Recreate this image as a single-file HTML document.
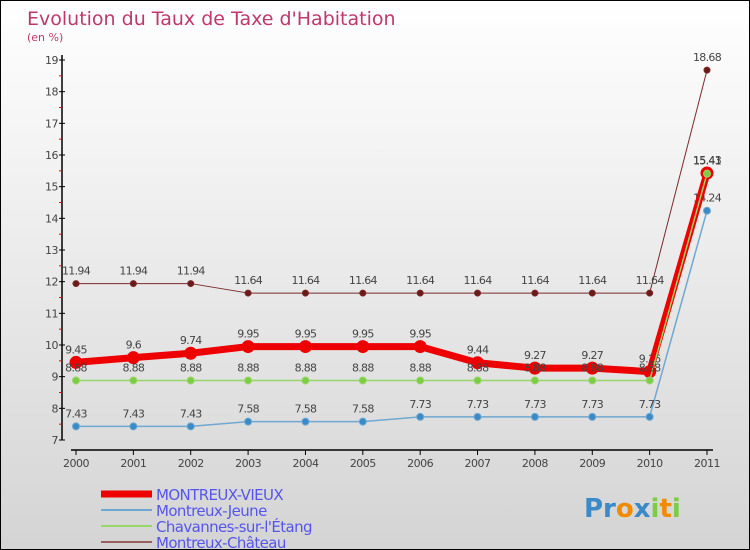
<!DOCTYPE html>
<html><head><meta charset="utf-8"><style>
body{margin:0}
#c{width:748px;height:548px;border:1px solid #000;background:linear-gradient(#fff,#d4d4d4);position:relative;font-family:"DejaVu Sans","Liberation Sans",sans-serif;overflow:hidden}
svg{position:absolute;left:0;top:0}
</style></head><body>
<div id="c">
<svg id="s" width="748" height="548">
<text x="26" y="24" font-size="19" fill="#c0386a">Evolution du Taux de Taxe d'Habitation</text>
<text x="26" y="40" font-size="11" fill="#c0386a">(en %)</text>
</svg>
</div>
<script>
const years=["2000","2001","2002","2003","2004","2005","2006","2007","2008","2009","2010","2011"];
const vieux=[9.45,9.6,9.74,9.95,9.95,9.95,9.95,9.44,9.27,9.27,9.16,15.43];
const jeune=[7.43,7.43,7.43,7.58,7.58,7.58,7.73,7.73,7.73,7.73,7.73,14.24];
const chavannes=[8.88,8.88,8.88,8.88,8.88,8.88,8.88,8.88,8.88,8.88,8.88,15.41];
const chateau=[11.94,11.94,11.94,11.64,11.64,11.64,11.64,11.64,11.64,11.64,11.64,18.68];
const yTicks=[7,8,9,10,11,12,13,14,15,16,17,18,19];
const NS="http://www.w3.org/2000/svg",s=document.getElementById('s');
const X=i=>75+i*(706-75)/11, Y=v=>439-(v-7)*(439-59)/12;
function mk(t,a,p){const e=document.createElementNS(NS,t);for(const k in a)e.setAttribute(k,a[k]);(p||s).appendChild(e);return e;}
let ax=mk('line',{x1:61,y1:54,x2:61,y2:439,stroke:'#000','stroke-width':1.5});


let bx=mk('line',{x1:70,y1:449,x2:712,y2:449,stroke:'#000','stroke-width':1.5});


yTicks.forEach(v=>{
 mk('line',{x1:58,x2:64,y1:Y(v),y2:Y(v),stroke:'#000'});
 if(v<19)mk('line',{x1:58,x2:61,y1:Y(v+.5),y2:Y(v+.5),stroke:'#e00'});
 const t=mk('text',{x:57,y:Y(v)+4,'text-anchor':'end','font-size':11,fill:'#444','letter-spacing':'-0.5'});
 t.textContent=v;
 
 
});
years.forEach((y,i)=>{
 mk('line',{x1:X(i),x2:X(i),y1:449,y2:454,stroke:'#000'});
 const t=mk('text',{x:X(i),y:466,'text-anchor':'middle','font-size':11,fill:'#444','letter-spacing':'-0.5'});
 t.textContent=y;
 
 
});
function series(d,col,w,r,fill,name,lab){
 const g=mk('g',{});
 
 
 mk('polyline',{points:d.map((v,i)=>X(i)+','+Y(v)).join(' '),fill:'none',stroke:col,'stroke-width':w,'stroke-linejoin':'round'},g);
 d.forEach((v,i)=>{
  const c=mk('circle',{cx:X(i),cy:Y(v),r:r,fill:fill,stroke:col,'stroke-width':w>3?3:1},g);
  
  
  const t=mk('text',{x:X(i),y:Y(v)-9,'text-anchor':'middle','font-size':11,fill:'#444','letter-spacing':'-0.7'},g);
  t.textContent=v;
  
  
 });
}
series(chateau,'#7a2a2a',1,3,'#6b1a1a','series-montreux-chateau');
series(jeune,'#6fa8d0',1.5,3.5,'#3a8ac8','series-montreux-jeune');
series(vieux,'#ee0000',7,5,'#ee0000','series-montreux-vieux');
series(chavannes,'#99d66a',1.5,3.5,'#7ccc44','series-chavannes');
const leg=[['MONTREUX-VIEUX','#ee0000',7],['Montreux-Jeune','#6fa8d0',2],['Chavannes-sur-l\'Étang','#99d66a',2],['Montreux-Château','#9a6060',2]];
leg.forEach((l,i)=>{
 const y=493+i*16;
 const g=mk('g',{});
 
 
 mk('line',{x1:100,x2:151,y1:y,y2:y,stroke:l[1],'stroke-width':l[2]},g);
 const t=mk('text',{x:155,y:y+6,'font-size':15,fill:'#5555ee','letter-spacing':'-0.6'},g);
 t.textContent=l[0];
});
const p=mk('text',{x:583,y:516,'font-size':26,'font-weight':'bold',fill:'#3a8ac8'});
p.innerHTML='<tspan fill="#3a8ac8">Pr</tspan><tspan fill="#f08a00">o</tspan><tspan fill="#3a8ac8">x</tspan><tspan fill="#7ccc44">i</tspan><tspan fill="#f08a00">t</tspan><tspan fill="#7ccc44">i</tspan>';


</script>
</body></html>
